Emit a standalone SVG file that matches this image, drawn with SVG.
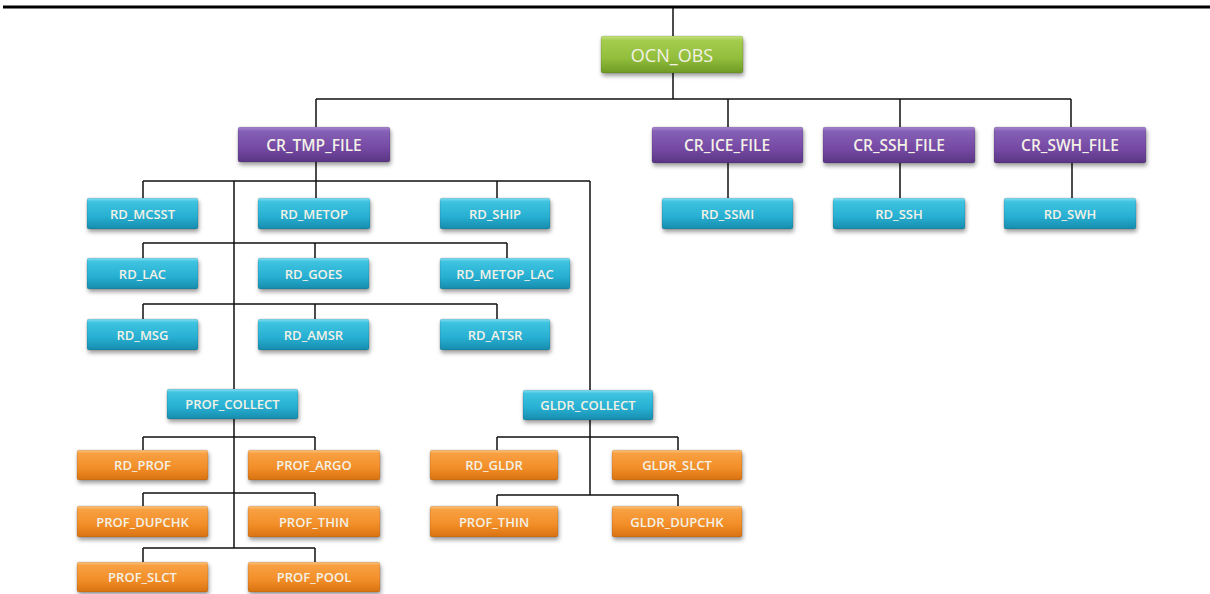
<svg xmlns="http://www.w3.org/2000/svg" width="1210" height="594" viewBox="0 0 1210 594">
  <defs>
    <linearGradient id="gGreen" x1="0" y1="0" x2="0" y2="1">
      <stop offset="0" stop-color="#c6e27e"/>
      <stop offset="0.12" stop-color="#a4cc4e"/>
      <stop offset="0.6" stop-color="#92be3c"/>
      <stop offset="1" stop-color="#6f9a26"/>
    </linearGradient>
    <linearGradient id="gPurple" x1="0" y1="0" x2="0" y2="1">
      <stop offset="0" stop-color="#a887cf"/>
      <stop offset="0.12" stop-color="#8660b6"/>
      <stop offset="0.6" stop-color="#7549a4"/>
      <stop offset="1" stop-color="#5a3684"/>
    </linearGradient>
    <linearGradient id="gCyan" x1="0" y1="0" x2="0" y2="1">
      <stop offset="0" stop-color="#86def2"/>
      <stop offset="0.12" stop-color="#3ec3e0"/>
      <stop offset="0.6" stop-color="#27afd2"/>
      <stop offset="1" stop-color="#178cad"/>
    </linearGradient>
    <linearGradient id="gOrange" x1="0" y1="0" x2="0" y2="1">
      <stop offset="0" stop-color="#fcc47e"/>
      <stop offset="0.12" stop-color="#f8a042"/>
      <stop offset="0.6" stop-color="#f28e28"/>
      <stop offset="1" stop-color="#d87212"/>
    </linearGradient>
    <filter id="shadow" x="-10%" y="-20%" width="125%" height="170%">
      <feDropShadow dx="1" dy="3" stdDeviation="2.2" flood-color="#000" flood-opacity="0.38"/>
    </filter>
  </defs>
  <style>
    .wire { fill: none; stroke: #111; stroke-width: 1.5; }
    .rule { fill: none; stroke: #000; stroke-width: 3; }
    .box { filter: url(#shadow); stroke: rgba(0,0,0,0.12); stroke-width: 1; }
    .green { fill: url(#gGreen); }
    .purple { fill: url(#gPurple); }
    .cyan { fill: url(#gCyan); }
    .orange { fill: url(#gOrange); }
    text { font-family: "Open Sans", "Liberation Sans", sans-serif; fill: #f3f1e6; text-anchor: middle; dominant-baseline: central; }
    .t-root { font-size: 18px; font-weight: 400; }
    .t-file { font-size: 15.5px; font-weight: 600; }
    .t-rd { font-size: 13px; font-weight: 600; }
  </style>

  <rect width="1210" height="594" fill="#ffffff"/>

  <!-- connectors -->
  <g id="connectors">
    <path class="rule" d="M3 7 H1210"/>
    <path class="wire" d="M673 8 V36"/>
    <path class="wire" d="M673 73 V99 M316 99 H1071 M316 99 V127 M728 99 V127 M900 99 V127 M1071 99 V127"/>
    <!-- CR_TMP_FILE fan-out -->
    <path class="wire" d="M316 162 V198 M143 181 H590 M143 181 V198 M497 181 V198 M234 181 V389 M590 181 V390"/>
    <path class="wire" d="M143 243 H507 M143 243 V258 M315 243 V258 M507 243 V258"/>
    <path class="wire" d="M143 304 H497 M143 304 V319 M315 304 V319 M497 304 V319"/>
    <!-- single-child files -->
    <path class="wire" d="M728 163 V198 M900 163 V198 M1072 163 V198"/>
    <!-- PROF_COLLECT -->
    <path class="wire" d="M234 419 V548 M143 437 H315 M143 437 V450 M315 437 V450 M143 493 H315 M143 493 V506 M315 493 V506 M143 548 H315 M143 548 V562 M315 548 V562"/>
    <!-- GLDR_COLLECT -->
    <path class="wire" d="M590 420 V495 M497 437 H678 M497 437 V450 M678 437 V450 M497 495 H678 M497 495 V506 M678 495 V506"/>
  </g>

  <!-- root -->
  <g id="OCN_OBS">
    <rect class="box green" x="601" y="36" width="142" height="37" rx="2"/>
    <text class="t-root" x="672" y="55">OCN_OBS</text>
  </g>

  <!-- file creators -->
  <g id="CR_TMP_FILE">
    <rect class="box purple" x="238" y="127" width="152" height="35" rx="2"/>
    <text class="t-file" x="314" y="145">CR_TMP_FILE</text>
  </g>
  <g id="CR_ICE_FILE">
    <rect class="box purple" x="652" y="127" width="151" height="36" rx="2"/>
    <text class="t-file" x="727" y="145">CR_ICE_FILE</text>
  </g>
  <g id="CR_SSH_FILE">
    <rect class="box purple" x="823" y="127" width="152" height="36" rx="2"/>
    <text class="t-file" x="899" y="145">CR_SSH_FILE</text>
  </g>
  <g id="CR_SWH_FILE">
    <rect class="box purple" x="994" y="127" width="152" height="36" rx="2"/>
    <text class="t-file" x="1070" y="145">CR_SWH_FILE</text>
  </g>

  <!-- readers -->
  <g id="RD_MCSST">
    <rect class="box cyan" x="87" y="198" width="111" height="31" rx="2"/>
    <text class="t-rd" x="142.5" y="213.5">RD_MCSST</text>
  </g>
  <g id="RD_METOP">
    <rect class="box cyan" x="258" y="198" width="112" height="31" rx="2"/>
    <text class="t-rd" x="314" y="213.5">RD_METOP</text>
  </g>
  <g id="RD_SHIP">
    <rect class="box cyan" x="440" y="198" width="110" height="31" rx="2"/>
    <text class="t-rd" x="495" y="213.5">RD_SHIP</text>
  </g>
  <g id="RD_LAC">
    <rect class="box cyan" x="87" y="258" width="111" height="31" rx="2"/>
    <text class="t-rd" x="142.5" y="273.5">RD_LAC</text>
  </g>
  <g id="RD_GOES">
    <rect class="box cyan" x="258" y="258" width="111" height="31" rx="2"/>
    <text class="t-rd" x="313.5" y="273.5">RD_GOES</text>
  </g>
  <g id="RD_METOP_LAC">
    <rect class="box cyan" x="440" y="258" width="130" height="31" rx="2"/>
    <text class="t-rd" x="505" y="273.5">RD_METOP_LAC</text>
  </g>
  <g id="RD_MSG">
    <rect class="box cyan" x="87" y="319" width="111" height="31" rx="2"/>
    <text class="t-rd" x="142.5" y="334.5">RD_MSG</text>
  </g>
  <g id="RD_AMSR">
    <rect class="box cyan" x="258" y="319" width="111" height="31" rx="2"/>
    <text class="t-rd" x="313.5" y="334.5">RD_AMSR</text>
  </g>
  <g id="RD_ATSR">
    <rect class="box cyan" x="440" y="319" width="110" height="31" rx="2"/>
    <text class="t-rd" x="495" y="334.5">RD_ATSR</text>
  </g>
  <g id="RD_SSMI">
    <rect class="box cyan" x="662" y="198" width="131" height="31" rx="2"/>
    <text class="t-rd" x="727.5" y="213.5">RD_SSMI</text>
  </g>
  <g id="RD_SSH">
    <rect class="box cyan" x="833" y="198" width="132" height="31" rx="2"/>
    <text class="t-rd" x="899" y="213.5">RD_SSH</text>
  </g>
  <g id="RD_SWH">
    <rect class="box cyan" x="1004" y="198" width="132" height="31" rx="2"/>
    <text class="t-rd" x="1070" y="213.5">RD_SWH</text>
  </g>

  <!-- collectors -->
  <g id="PROF_COLLECT">
    <rect class="box cyan" x="167" y="389" width="131" height="30" rx="2"/>
    <text class="t-rd" x="232.5" y="404">PROF_COLLECT</text>
  </g>
  <g id="GLDR_COLLECT">
    <rect class="box cyan" x="523" y="390" width="130" height="30" rx="2"/>
    <text class="t-rd" x="588" y="405">GLDR_COLLECT</text>
  </g>

  <!-- profile steps -->
  <g id="RD_PROF">
    <rect class="box orange" x="77" y="450" width="131" height="30" rx="2"/>
    <text class="t-rd" x="142.5" y="465">RD_PROF</text>
  </g>
  <g id="PROF_ARGO">
    <rect class="box orange" x="248" y="450" width="132" height="30" rx="2"/>
    <text class="t-rd" x="314" y="465">PROF_ARGO</text>
  </g>
  <g id="PROF_DUPCHK">
    <rect class="box orange" x="77" y="506" width="131" height="31" rx="2"/>
    <text class="t-rd" x="142.5" y="521.5">PROF_DUPCHK</text>
  </g>
  <g id="PROF_THIN">
    <rect class="box orange" x="248" y="506" width="132" height="31" rx="2"/>
    <text class="t-rd" x="314" y="521.5">PROF_THIN</text>
  </g>
  <g id="PROF_SLCT">
    <rect class="box orange" x="77" y="562" width="131" height="30" rx="2"/>
    <text class="t-rd" x="142.5" y="577">PROF_SLCT</text>
  </g>
  <g id="PROF_POOL">
    <rect class="box orange" x="248" y="562" width="132" height="30" rx="2"/>
    <text class="t-rd" x="314" y="577">PROF_POOL</text>
  </g>

  <!-- glider steps -->
  <g id="RD_GLDR">
    <rect class="box orange" x="430" y="450" width="128" height="30" rx="2"/>
    <text class="t-rd" x="494" y="465">RD_GLDR</text>
  </g>
  <g id="GLDR_SLCT">
    <rect class="box orange" x="612" y="450" width="130" height="30" rx="2"/>
    <text class="t-rd" x="677" y="465">GLDR_SLCT</text>
  </g>
  <g id="GLDR_PROF_THIN">
    <rect class="box orange" x="430" y="506" width="128" height="31" rx="2"/>
    <text class="t-rd" x="494" y="521.5">PROF_THIN</text>
  </g>
  <g id="GLDR_DUPCHK">
    <rect class="box orange" x="612" y="506" width="130" height="31" rx="2"/>
    <text class="t-rd" x="677" y="521.5">GLDR_DUPCHK</text>
  </g>
</svg>
